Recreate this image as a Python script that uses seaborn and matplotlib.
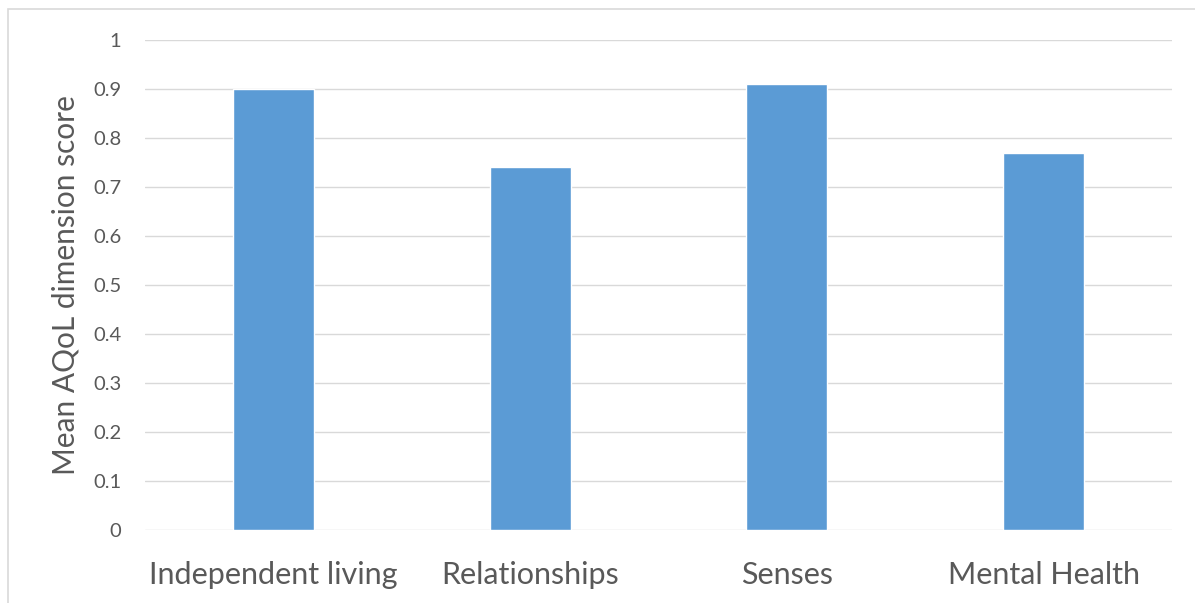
import matplotlib
matplotlib.use("Agg")
import matplotlib.pyplot as plt
import seaborn as sns
import pandas as pd
from matplotlib.patches import Rectangle

# datos
dimensiones = ["Independent living", "Relationships", "Senses", "Mental Health"]
puntajes = [0.90, 0.74, 0.91, 0.77]
ticks_y = [0, 0.1, 0.2, 0.3, 0.4, 0.5, 0.6, 0.7, 0.8, 0.9, 1]
etiquetas_y = ["0", "0.1", "0.2", "0.3", "0.4", "0.5", "0.6", "0.7", "0.8", "0.9", "1"]

df = pd.DataFrame({"Dimension": dimensiones, "Score": puntajes})

sns.set_style("white")
plt.rcParams["font.family"] = ["Lato", "DejaVu Sans"]

gris = "#595959"
fig = plt.figure(figsize=(11.95, 6.03), dpi=100)
ax = fig.add_axes([145 / 1195, 1 - 530 / 603, (1172 - 145) / 1195, 490 / 603])

sns.barplot(data=df, x="Dimension", y="Score", color="#5B9BD5", width=0.315,
            saturation=1, ax=ax, zorder=3)

ax.set_ylim(0, 1)
ax.set_xlim(-0.5, 3.5)
ax.set_yticks(ticks_y)
ax.set_yticklabels(etiquetas_y)
ax.yaxis.grid(True, color="#D9D9D9", linewidth=1, zorder=0)
ax.set_axisbelow(True)
for s in ax.spines.values():
    s.set_visible(False)
ax.tick_params(axis="y", length=0, pad=17, labelsize=14.5, labelcolor=gris)
ax.tick_params(axis="x", length=0, pad=22, labelsize=22, labelcolor=gris)
ax.set_xlabel("")
ax.set_ylabel("Mean AQoL dimension score", fontsize=21.5, color=gris, labelpad=10)

# marco del gráfico
fig.patches.append(Rectangle((8 / 1195, -0.05), 1.1, 1 - 9 / 603 + 0.05,
                             transform=fig.transFigure, fill=False,
                             edgecolor="#D9D9D9", linewidth=1.2))

fig.savefig("out.png", dpi=100)
